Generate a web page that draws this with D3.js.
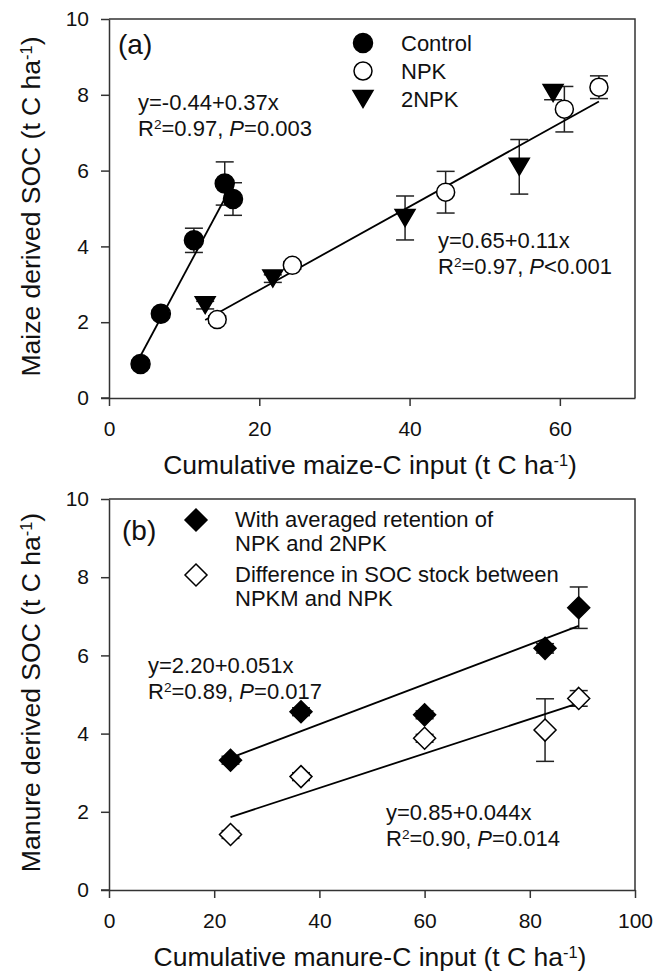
<!DOCTYPE html>
<html>
<head>
<style>
  body { margin: 0; background: #fff; }
  text { font-family: "Liberation Sans", Arial, sans-serif; fill: #111; }
</style>
</head>
<body>
<svg id="svg" width="656" height="976"></svg>
<script src="https://d3js.org/d3.v7.min.js"></script>
<script>
// ---- panel (a) data: maize derived SOC vs cumulative maize-C input
const controlX = [4.2, 6.9, 11.3, 15.4, 16.5];
const controlY = [0.9, 2.22, 4.16, 5.66, 5.25];
const controlErr = [0.1, 0.1, 0.32, 0.57, 0.43];

const npkX = [14.4, 24.4, 44.8, 60.6, 65.2];
const npkY = [2.07, 3.5, 5.43, 7.62, 8.2];
const npkErr = [0.1, 0.1, 0.55, 0.6, 0.3];

const npk2X = [12.8, 21.8, 39.4, 54.6, 59.1];
const npk2Y = [2.45, 3.15, 4.75, 6.1, 8.05];
const npk2Err = [0.1, 0.1, 0.58, 0.72, 0.18];

// ---- panel (b) data: manure derived SOC vs cumulative manure-C input
const manureX = [23.1, 36.5, 60.0, 82.9, 89.3];
const retainY = [3.32, 4.56, 4.48, 6.18, 7.22];
const retainErr = [0.1, 0.1, 0.1, 0.12, 0.53];
const diffY = [1.42, 2.9, 3.88, 4.09, 4.9];
const diffErr = [0.1, 0.1, 0.1, 0.8, 0.2];

// regression lines: intercept, slope, x from, x to
const fitControl = [-0.44, 0.37, 4.2, 16.5];
const fitNpk = [0.65, 0.11, 12.8, 65.2];
const fitRetain = [2.20, 0.051, 23.1, 89.3];
const fitDiff = [0.85, 0.044, 23.1, 89.3];

// ticks
const ticksXA = [0, 20, 40, 60];
const ticksXB = [0, 20, 40, 60, 80, 100];
const ticksY = [0, 2, 4, 6, 8, 10];

const svg = d3.select('#svg');

const xA = d3.scaleLinear().domain([0, 70]).range([109, 635]);
const yA = d3.scaleLinear().domain([0, 10]).range([398, 19]);
const xB = d3.scaleLinear().domain([0, 100]).range([109, 635]);
const yB = d3.scaleLinear().domain([0, 10]).range([890, 499]);

// marker shapes
const circlePath = r => d3.symbol().type(d3.symbolCircle).size(Math.PI * r * r)();
const triDown = 'M-10,-8.5L10,-8.5L0,8.5Z';
const diamond = s => `M0,${-s}L${s},0L0,${s}L${-s},0Z`;

function zip(xs, ys, es) {
  return xs.map((x, i) => ({ x, y: ys[i], e: es ? es[i] : 0 }));
}

function drawAxes(x, y, xticks, xTitle, yTitle) {
  const g = svg.append('g');
  // frame top + right
  g.append('path')
    .attr('d', `M${x.range()[0]},${y.range()[1]}H${x.range()[1]}V${y.range()[0]}`)
    .attr('fill', 'none').attr('stroke', '#333').attr('stroke-width', 1.5);

  const ax = g.append('g')
    .attr('transform', `translate(0,${y.range()[0]})`)
    .call(d3.axisBottom(x).tickValues(xticks).tickSize(8).tickSizeOuter(0).tickPadding(15));
  const ay = g.append('g')
    .attr('transform', `translate(${x.range()[0]},0)`)
    .call(d3.axisLeft(y).tickValues(ticksY).tickSize(8).tickSizeOuter(0).tickPadding(12));
  [ax, ay].forEach(a => {
    a.select('.domain').attr('stroke', '#333').attr('stroke-width', 1.5);
    a.selectAll('.tick line').attr('stroke', '#333').attr('stroke-width', 1.5);
    a.selectAll('.tick text').attr('font-size', 21)
      .attr('font-family', '"Liberation Sans", Arial, sans-serif').attr('fill', '#111');
  });
  // extend x domain left over the 0 tick
  g.append('line').attr('x1', x.range()[0] - 8).attr('x2', x.range()[0])
    .attr('y1', y.range()[0]).attr('y2', y.range()[0]).attr('stroke', '#333').attr('stroke-width', 1.5);

  // x title
  const xt = g.append('text')
    .attr('x', (x.range()[0] + x.range()[1]) / 2 - 2)
    .attr('y', y.range()[0] + 76)
    .attr('text-anchor', 'middle').attr('font-size', 26.5);
  addUnits(xt, xTitle);

  const yt = g.append('text')
    .attr('transform', `translate(40,${(y.range()[0] + y.range()[1]) / 2 - 2}) rotate(-90)`)
    .attr('text-anchor', 'middle').attr('font-size', 26.5);
  addUnits(yt, yTitle);
}

// "... (t C ha⁻¹)"
function addUnits(t, label) {
  t.append('tspan').text(label + ' (t C ha');
  t.append('tspan').attr('dy', '-0.5em').attr('font-size', '0.62em').text('-1');
  t.append('tspan').attr('dy', '0.31em').text(')');
}

function drawFit(x, y, f) {
  svg.append('line')
    .attr('x1', x(f[2])).attr('y1', y(f[0] + f[1] * f[2]))
    .attr('x2', x(f[3])).attr('y2', y(f[0] + f[1] * f[3]))
    .attr('stroke', '#000').attr('stroke-width', 1.8);
}

function drawErr(x, y, pts) {
  const g = svg.append('g').attr('stroke', '#222').attr('stroke-width', 1.5);
  pts.forEach(d => {
    const xp = x(d.x), y0 = y(d.y - d.e), y1 = y(d.y + d.e);
    g.append('line').attr('x1', xp).attr('x2', xp).attr('y1', y0).attr('y2', y1);
    g.append('line').attr('x1', xp - 9).attr('x2', xp + 9).attr('y1', y0).attr('y2', y0);
    g.append('line').attr('x1', xp - 9).attr('x2', xp + 9).attr('y1', y1).attr('y2', y1);
  });
}

function drawMarks(x, y, pts, path, filled) {
  svg.append('g').selectAll('path').data(pts).join('path')
    .attr('d', path)
    .attr('transform', d => `translate(${x(d.x)},${y(d.y)})`)
    .attr('fill', filled ? '#000' : '#fff')
    .attr('stroke', '#000').attr('stroke-width', 1.5);
}

function eqText(x0, y0, eq, r2, p) {
  const t = svg.append('text').attr('font-size', 22);
  t.append('tspan').attr('x', x0).attr('y', y0).text(eq);
  const t2 = svg.append('text').attr('font-size', 22).attr('x', x0).attr('y', y0 + 26);
  t2.append('tspan').text('R');
  t2.append('tspan').attr('dy', '-0.5em').attr('font-size', '0.62em').text('2');
  t2.append('tspan').attr('dy', '0.31em').text('=' + r2 + ', ');
  t2.append('tspan').attr('font-style', 'italic').text('P');
  t2.append('tspan').text(p);
}

// ================= panel (a)
drawAxes(xA, yA, ticksXA, 'Cumulative maize-C input', 'Maize derived SOC');

const ctrl = zip(controlX, controlY, controlErr);
const npk = zip(npkX, npkY, npkErr);
const npk2 = zip(npk2X, npk2Y, npk2Err);

drawErr(xA, yA, ctrl);
drawErr(xA, yA, npk);
drawErr(xA, yA, npk2);
drawFit(xA, yA, fitControl);
drawFit(xA, yA, fitNpk);
drawMarks(xA, yA, ctrl, circlePath(9.5), true);
drawMarks(xA, yA, npk, circlePath(9), false);
drawMarks(xA, yA, npk2, triDown, true);

svg.append('text').attr('x', 118).attr('y', 54).attr('font-size', 28).text('(a)');

// legend (a)
const legA = [['Control', circlePath(9.5), true], ['NPK', circlePath(9), false], ['2NPK', triDown, true]];
legA.forEach((l, i) => {
  const cy = 43 + i * 28;
  svg.append('path').attr('d', l[1]).attr('transform', `translate(363,${cy})`)
    .attr('fill', l[2] ? '#000' : '#fff').attr('stroke', '#000').attr('stroke-width', 1.5);
  svg.append('text').attr('x', 401).attr('y', cy + 8).attr('font-size', 22).text(l[0]);
});

eqText(138, 110, 'y=-0.44+0.37x', '0.97', '=0.003');
eqText(438, 248, 'y=0.65+0.11x', '0.97', '<0.001');

// ================= panel (b)
drawAxes(xB, yB, ticksXB, 'Cumulative manure-C input', 'Manure derived SOC');

const retain = zip(manureX, retainY, retainErr);
const diff = zip(manureX, diffY, diffErr);

drawErr(xB, yB, retain);
drawErr(xB, yB, diff);
drawFit(xB, yB, fitRetain);
drawFit(xB, yB, fitDiff);
drawMarks(xB, yB, retain, diamond(11), true);
drawMarks(xB, yB, diff, diamond(11), false);

svg.append('text').attr('x', 122).attr('y', 540).attr('font-size', 28).text('(b)');

const legB = [
  [['With averaged retention of', 'NPK and 2NPK'], true],
  [['Difference in SOC stock between', 'NPKM and NPK'], false]
];
legB.forEach((l, i) => {
  const top = 527 + i * 55;
  svg.append('path').attr('d', diamond(11)).attr('transform', `translate(196,${top - 7})`)
    .attr('fill', l[1] ? '#000' : '#fff').attr('stroke', '#000').attr('stroke-width', 1.5);
  l[0].forEach((s, j) => {
    svg.append('text').attr('x', 235).attr('y', top + j * 24).attr('font-size', 22).text(s);
  });
});

eqText(148, 673, 'y=2.20+0.051x', '0.89', '=0.017');
eqText(386, 820, 'y=0.85+0.044x', '0.90', '=0.014');
</script>
</body>
</html>
